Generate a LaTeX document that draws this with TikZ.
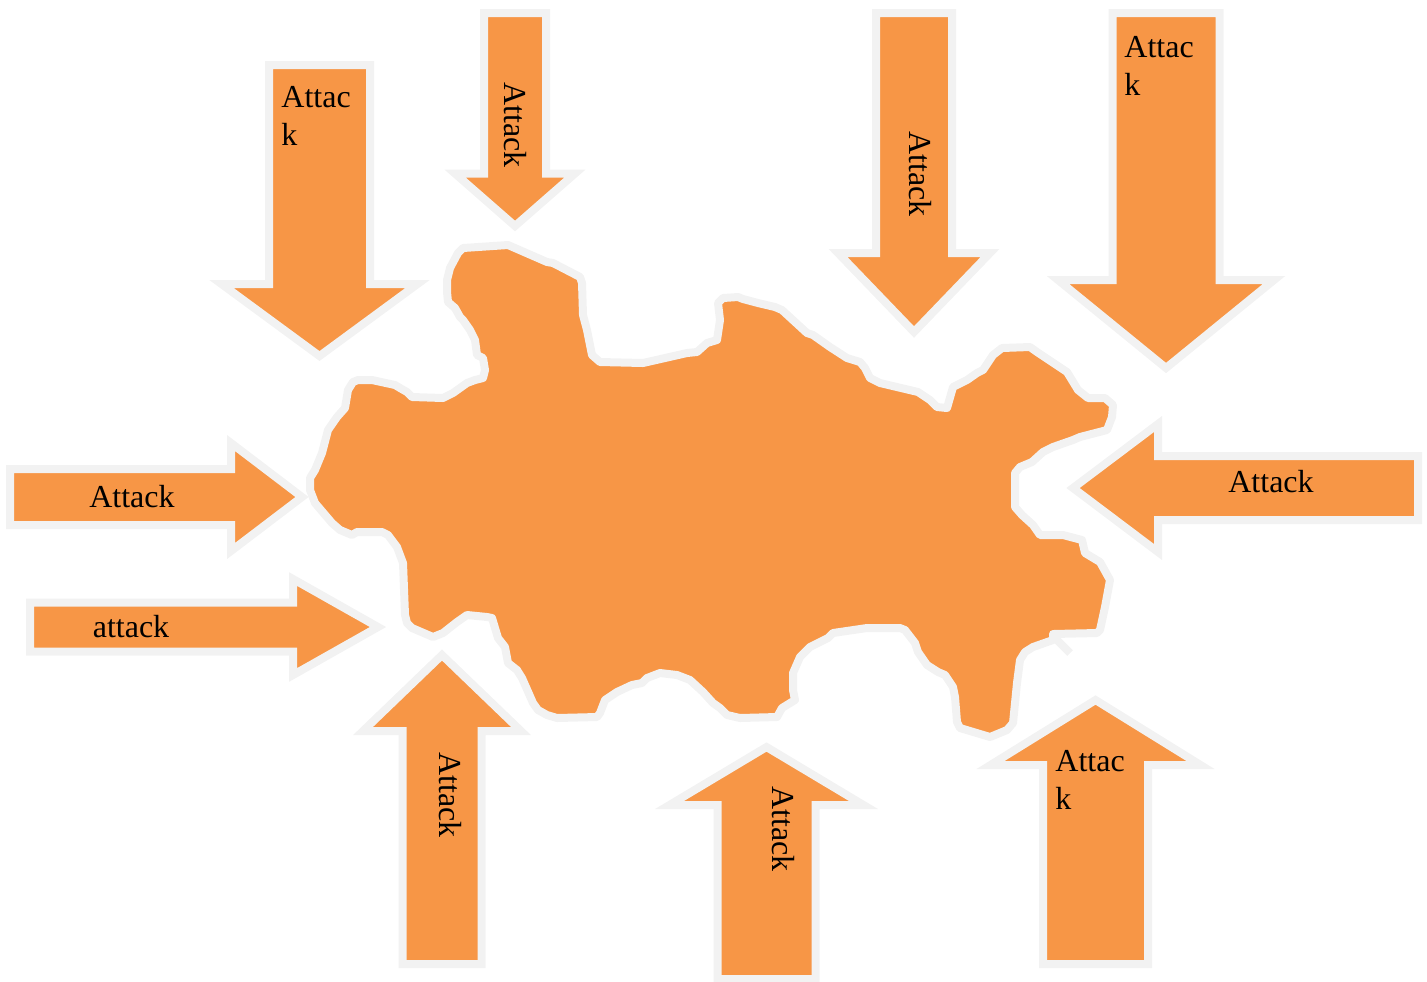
\documentclass[tikz,border=0pt]{standalone}
\usepackage{fontspec}
\setmainfont{Liberation Serif}
\usetikzlibrary{positioning}
\definecolor{attackfill}{RGB}{247,150,70}
\definecolor{rimgray}{RGB}{242,242,242}
\begin{document}
\begin{tikzpicture}[x=0.5pt,y=-0.5pt,
  land/.style={fill=attackfill,draw=rimgray,line width=4pt,line join=round},
  arrowbody/.style={fill=attackfill,draw=rimgray,line width=4pt,line join=miter},
  attacktext/.style={inner sep=0pt,font=\fontsize{16}{19}\selectfont}]
\useasboundingbox (0,0) rectangle (1427,981);
% the land under attack
\draw[land] (463,248) -- (508,245) -- (547,262) -- (553,263) -- (580,277) -- (582,283) -- (583,315) -- (587,330) -- (592,355) -- (600,362) -- (643,363) -- (687,353) -- (697,352) -- (707,343) -- (717,340) -- (720,320) -- (718,303) -- (723,298) -- (738,297) -- (743,299) -- (758,303) -- (775,307) -- (782,310) -- (807,333) -- (813,335) -- (830,347) -- (847,358) -- (860,362) -- (865,368) -- (870,378) -- (880,383) -- (918,392) -- (930,400) -- (937,407) -- (947,408) -- (953,387) -- (967,380) -- (977,373) -- (983,370) -- (993,355) -- (1002,348) -- (1030,347) -- (1037,352) -- (1067,372) -- (1078,390) -- (1088,398) -- (1105,398) -- (1113,405) -- (1112,417) -- (1107,430) -- (1080,437) -- (1073,440) -- (1053,447) -- (1043,452) -- (1032,462) -- (1020,467) -- (1015,473) -- (1015,507) -- (1022,515) -- (1033,525) -- (1040,535) -- (1063,535) -- (1082,540) -- (1085,553) -- (1100,562) -- (1110,580) -- (1105,607) -- (1100,630) -- (1097,633) -- (1053,634) -- (1053,640) -- (1033,647) -- (1025,652) -- (1020,660) -- (1017,683) -- (1013,723) -- (1007,730) -- (990,737) -- (960,728) -- (957,722) -- (955,697) -- (953,687) -- (945,675) -- (938,672) -- (927,665) -- (918,652) -- (915,643) -- (905,630) -- (900,628) -- (867,628) -- (833,633) -- (828,638) -- (810,647) -- (800,657) -- (793,673) -- (793,690) -- (795,700) -- (782,708) -- (777,717) -- (740,718) -- (727,715) -- (720,708) -- (713,703) -- (703,692) -- (690,680) -- (677,675) -- (660,673) -- (647,678) -- (642,683) -- (632,685) -- (617,692) -- (605,700) -- (600,713) -- (597,717) -- (557,718) -- (547,715) -- (538,710) -- (533,703) -- (522,678) -- (517,670) -- (508,663) -- (505,647) -- (498,638) -- (492,618) -- (487,617) -- (467,615) -- (457,622) -- (443,633) -- (433,637) -- (412,628) -- (407,623) -- (405,615) -- (403,563) -- (397,547) -- (388,535) -- (382,532) -- (357,532) -- (352,535) -- (340,530) -- (332,523) -- (315,503) -- (310,490) -- (310,478) -- (315,470) -- (322,453) -- (328,430) -- (337,417) -- (345,408) -- (348,390) -- (353,382) -- (358,380) -- (372,380) -- (395,385) -- (400,388) -- (407,392) -- (412,397) -- (443,398) -- (453,393) -- (467,383) -- (475,380) -- (483,378) -- (485,370) -- (483,358) -- (477,355) -- (475,340) -- (470,330) -- (463,320) -- (460,317) -- (455,308) -- (448,302) -- (447,292) -- (447,280) -- (450,268) -- (458,253) -- cycle;
\draw[rimgray,line width=4pt] (1055,638) -- (1070,653);
% vertical arrows: centre/shaft end/head base/tip/half shaft/half head
\foreach \x/\s/\b/\p/\w/\h in {319.5/65/284/356/50.5/98, 515/13/173.5/226/31/60,
        914/13/253/332/38/76, 1166/13/280/368/53.5/108, 442/964/731/655/39.5/79,
        766.5/979/805/747/49/97, 1095.5/964/765/700/52.5/105} {
        \draw[arrowbody] ({\x-\w},\s) -- ({\x+\w},\s) -- ({\x+\w},\b) -- ({\x+\h},\b)
                -- (\x,\p) -- ({\x-\h},\b) -- ({\x-\w},\b) -- cycle;
        }
% horizontal arrows
\foreach \y/\s/\b/\p/\w/\h in {497/10/231/302/28/54, 627/30/293/378/24.5/48,
        488/1418/1158/1073/32/64} {
        \draw[arrowbody] (\s,{\y-\w}) -- (\s,{\y+\w}) -- (\b,{\y+\w}) -- (\b,{\y+\h})
                -- (\p,\y) -- (\b,{\y-\h}) -- (\b,{\y-\w}) -- cycle;
        }
% labels
\foreach \n/\x/\y in {b/515/125,c/920/174,g/450/795,h/783/829}
        \node[attacktext,rotate=-90] ({\n}lbl) at (\x,\y) {Attack};
\node[attacktext] (elbl) at (132,497) {Attack};
\node[attacktext] (flbl) at (131,627) {attack};
\node[attacktext] (jlbl) at (1271,482) {Attack};
\foreach \n/\x/\y in {a/281/107,d/1124/57,i/1055/771.5}
        \node[attacktext,anchor=base west,text width=40pt,align=left] ({\n}lbl) at (\x,\y) {Attac\\k};
\end{tikzpicture}
\end{document}
